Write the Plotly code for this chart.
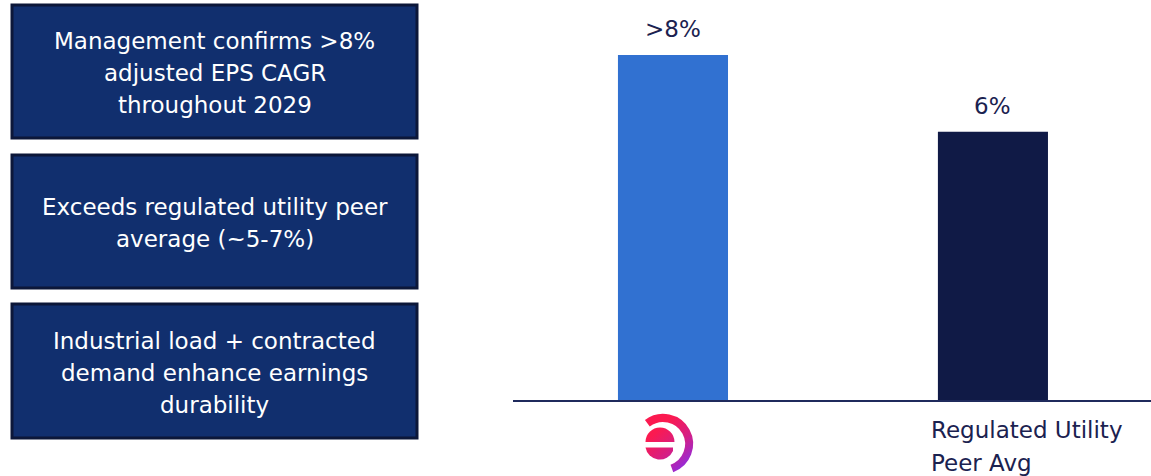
import base64
import plotly.graph_objects as go

# ---- data -------------------------------------------------------------
categories = ["Company", "Peer Avg"]
eps_cagr = [8, 6]
value_labels = [">8%", "6%"]
peer_label_lines = ["Regulated Utility", "Peer Avg"]

box_lines = [
    ["Management confirms >8%", "adjusted EPS CAGR", "throughout 2029"],
    ["Exceeds regulated utility peer", "average (~5-7%)"],
    ["Industrial load + contracted", "demand enhance earnings", "durability"],
]

# ---- styling ------------------------------------------------------------
W, H = 1151, 476
FONT = "DejaVu Sans"
FONT_SIZE = 23
NAVY_TEXT = "#1b2250"
BAR_COLORS = ["#3171d1", "#101a46"]
BOX_FILL = "#112f6e"
BOX_EDGE = "#0c1739"
Y_FLOOR = -1.0          # value axis starts slightly below zero
Y_TOP = 9.435


def px_x(p):
    return p / W


def px_y(p):
    return 1 - p / H


fig = go.Figure()
fig.add_trace(go.Bar(
    x=categories,
    y=[v - Y_FLOOR for v in eps_cagr],
    base=Y_FLOOR,
    width=0.344,
    marker=dict(color=BAR_COLORS, line=dict(width=0)),
    hoverinfo="skip",
))

annotations = []
# value labels above bars
for cat, val, lab in zip(categories, eps_cagr, value_labels):
    annotations.append(dict(
        x=cat, y=val, xref="x", yref="y", text=lab, showarrow=False,
        yanchor="middle", yshift=26,
        font=dict(family=FONT, size=FONT_SIZE, color=NAVY_TEXT),
    ))

# peer category label (left aligned, two lines)
for i, line in enumerate(peer_label_lines):
    annotations.append(dict(
        x=px_x(929), y=px_y(430 + 33 * i), xref="paper", yref="paper",
        text=line, showarrow=False, xanchor="left", yanchor="middle",
        font=dict(family=FONT, size=FONT_SIZE, color=NAVY_TEXT),
    ))

# left-hand text boxes
shapes = []
box_rows = [(5, 138), (155, 288), (304, 438)]
for (top, bottom), lines in zip(box_rows, box_lines):
    shapes.append(dict(
        type="rect", xref="paper", yref="paper",
        x0=px_x(12), x1=px_x(417), y0=px_y(bottom), y1=px_y(top),
        fillcolor=BOX_FILL, line=dict(color=BOX_EDGE, width=3),
        layer="below",
    ))
    mid = (top + bottom) / 2 + 1.5
    n = len(lines)
    for i, line in enumerate(lines):
        yc = mid + (i - (n - 1) / 2) * 32
        annotations.append(dict(
            x=px_x(214.5), y=px_y(yc), xref="paper", yref="paper",
            text=line, showarrow=False, xanchor="center", yanchor="middle",
            font=dict(family=FONT, size=FONT_SIZE, color="white"),
        ))

# company logo mark under the first bar
logo_svg = """<svg xmlns='http://www.w3.org/2000/svg' width='60' height='66' viewBox='0 0 60 66'>
<defs><linearGradient id='g' gradientUnits='userSpaceOnUse' x1='5' y1='8' x2='52' y2='60'>
<stop offset='0.25' stop-color='#fb1a50'/><stop offset='0.6' stop-color='#d41f86'/>
<stop offset='1' stop-color='#7d2ff8'/></linearGradient></defs>
<path d='M7.35,13.24 A26,26 0 1 1 31.9,58.4' fill='none' stroke='url(#g)' stroke-width='8'/>
<path d='M5.5,32 A14.5,14.5 0 0 1 34.5,32 Z' fill='url(#g)'/>
<path d='M5.5,37.5 A14.5,14.5 0 0 0 33,41 L33,37.5 Z' fill='url(#g)'/>
</svg>"""
logo_src = "data:image/svg+xml;base64," + base64.b64encode(logo_svg.encode()).decode()

fig.update_layout(
    width=W, height=H,
    margin=dict(l=0, r=0, t=0, b=0),
    paper_bgcolor="white", plot_bgcolor="white",
    showlegend=False,
    xaxis=dict(
        domain=[513 / W, 1], range=[-0.5, 1.494], type="category",
        showticklabels=False, ticks="", showgrid=False, zeroline=False,
        showline=True, linecolor="#1f2a5c", linewidth=2,
    ),
    yaxis=dict(
        domain=[76 / H, 1], range=[Y_FLOOR, Y_TOP], visible=False,
        showgrid=False, zeroline=False,
    ),
    shapes=shapes,
    annotations=annotations,
    images=[dict(
        source=logo_src, xref="paper", yref="paper",
        x=px_x(640), y=px_y(410), sizex=60 / W, sizey=66 / H,
        xanchor="left", yanchor="top", sizing="stretch", layer="above",
    )],
)

fig.write_html("out.html")
